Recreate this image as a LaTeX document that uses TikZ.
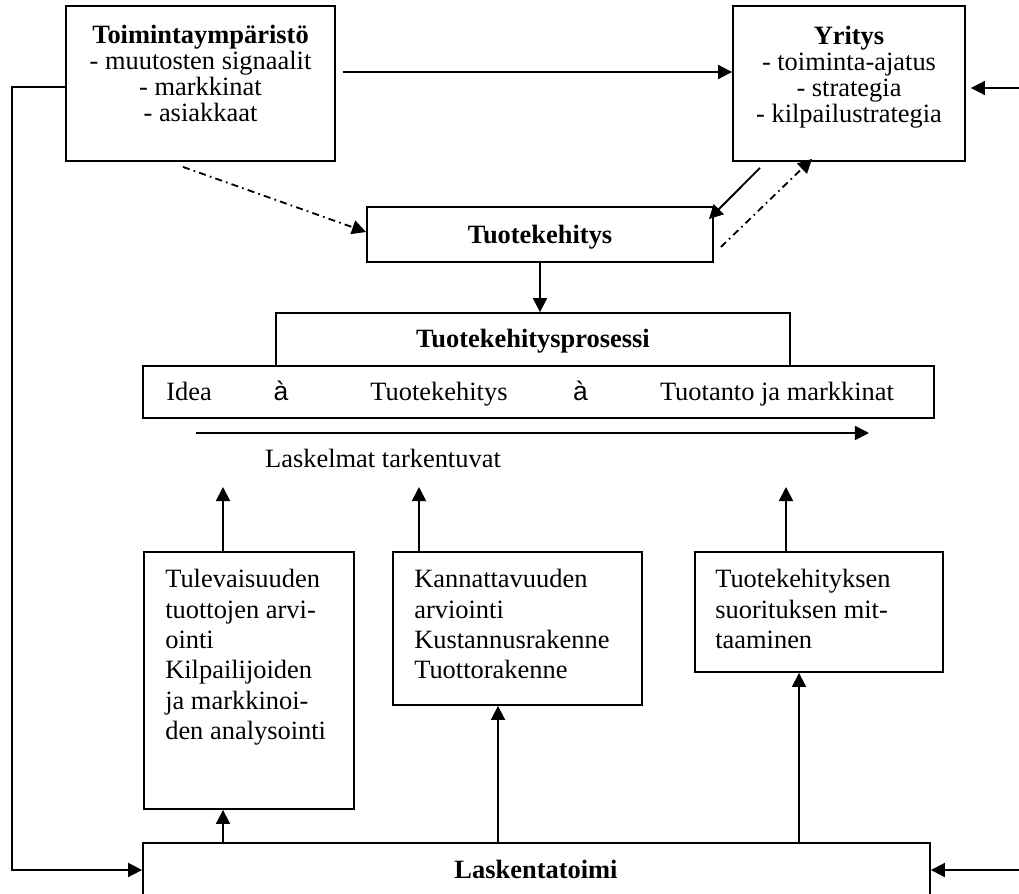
\documentclass[tikz,border=0pt]{standalone}
\usepackage{fontspec}
\setmainfont{Liberation Serif}
\newfontfamily\symfont{Liberation Sans}
\usetikzlibrary{arrows.meta}
\newcommand\pxu{0.025cm}
\begin{document}
\begin{tikzpicture}[x=0.025cm,y=-0.025cm,
  txt/.style={font=\fontsize{18.8}{21.6}\selectfont, inner sep=0pt},
  toptxt/.style={font=\fontsize{18.8}{18.5}\selectfont, inner sep=0pt, align=center, anchor=north},
  boxtxt/.style={txt, align=left, anchor=north west},
  frame/.style={draw, line width=1.3pt, inner sep=0pt},
  arr/.style={line width=1.3pt, -{Triangle[length=10pt,width=10pt]}},
  dashdot/.style={arr, dash pattern=on 5pt off 3pt on 1.2pt off 3pt}]
\useasboundingbox (0,0) rectangle (1019,894);
\clip (0,0) rectangle (1019,894);

% operating environment and company
\node[frame, minimum width=269*\pxu, minimum height=155*\pxu] (envbox) at (200.5,83.5) {};
\node[toptxt] (envtxt) at (200.5,25)
  {\textbf{Toimintaympäristö}\\- muutosten signaalit\\- markkinat\\- asiakkaat};
\node[frame, minimum width=232*\pxu, minimum height=155*\pxu] (firm) at (849,83.5) {};
\node[toptxt] (firmtxt) at (849,25.5)
  {\textbf{Yritys}\\- toiminta-ajatus\\- strategia\\- kilpailustrategia};

% product development
\node[frame, minimum width=346*\pxu, minimum height=55*\pxu] (tk) at (540,234.5) {};
\node[txt, anchor=base] (tklabel) at (540,243) {\textbf{Tuotekehitys}};

% process
\node[frame, minimum width=514*\pxu, minimum height=53*\pxu] (proc) at (533,339.5) {};
\node[txt, anchor=base] (proclabel) at (533,347) {\textbf{Tuotekehitysprosessi}};
\node[frame, minimum width=791*\pxu, minimum height=52*\pxu] (row) at (538.5,392) {};
\node[txt, anchor=base west] (s1) at (166,400) {Idea};
\node[txt, anchor=base] (a1) at (281,400) {\symfont à};
\node[txt, anchor=base] (s2) at (439,400) {Tuotekehitys};
\node[txt, anchor=base] (a2) at (580.5,400) {\symfont à};
\node[txt, anchor=base] (s3) at (777,400) {Tuotanto ja markkinat};
\coordinate (lstart) at (196,433);
\coordinate (lend) at (869,433);
\node[txt, anchor=base] (lbl) at (383,467) {Laskelmat tarkentuvat};

% calculation boxes
\node[frame, minimum width=210*\pxu, minimum height=257*\pxu] (b1) at (249,680.5) {};
\node[boxtxt] (b1txt) at (165,569)
  {Tulevaisuuden\\tuottojen arvi-\\ointi\\Kilpailijoiden\\ja markkinoi-\\den analysointi};
\node[frame, minimum width=249*\pxu, minimum height=153*\pxu] (b2) at (517.5,628.5) {};
\node[boxtxt] (b2txt) at (414,569)
  {Kannattavuuden\\arviointi\\Kustannusrakenne\\Tuottorakenne};
\node[frame, minimum width=248*\pxu, minimum height=120*\pxu] (b3) at (819,612) {};
\node[boxtxt] (b3txt) at (715,569)
  {Tuotekehityksen\\suorituksen mit-\\taaminen};

% accounting
\node[frame, minimum width=787*\pxu, minimum height=62*\pxu] (lask) at (536.5,874) {};
\node[txt, anchor=base] (lasklabel) at (536,878) {\textbf{Laskentatoimi}};

\coordinate (u1) at (223,487);
\coordinate (u2) at (419,487);
\coordinate (u3) at (786,487);
\coordinate (d2) at (498,0);
\coordinate (d3) at (799,0);
\coordinate (rloop) at (1040,480);

% connectors
\draw[arr] ([shift={(7,-11.5)}]envbox.east) -- ([yshift=11.5*\pxu]firm.west);
\draw[arr] ([yshift=-3.5*\pxu]envbox.west) -- ++(-53,0) |- ([yshift=4*\pxu]lask.west);
\draw[arr] (rloop) |- ([shift={(5,4.5)}]firm.east);
\draw[arr] (rloop) |- ([yshift=4*\pxu]lask.east);
\draw[dashdot] ([shift={(-17.5,5)}]envbox.south) -- ([yshift=2.5*\pxu]tk.west);
\draw[arr] ([shift={(-89,6)}]firm.south) -- ([shift={(-5,13)}]tk.north east);
\draw[dashdot] ([shift={(7,12.5)}]tk.east) -- ([shift={(-37,-3)}]firm.south);
\draw[arr] (tk.south) -- (tk.south |- proc.north);
\draw[arr] (lstart) -- (lend);
\draw[arr] (b1.north -| u1) -- (u1);
\draw[arr] (b2.north -| u2) -- (u2);
\draw[arr] (b3.north -| u3) -- (u3);
\draw[arr] (lask.north -| u1) -- (b1.south -| u1);
\draw[arr] (lask.north -| d2) -- (b2.south -| d2);
\draw[arr] (lask.north -| d3) -- (b3.south -| d3);
\end{tikzpicture}
\end{document}
